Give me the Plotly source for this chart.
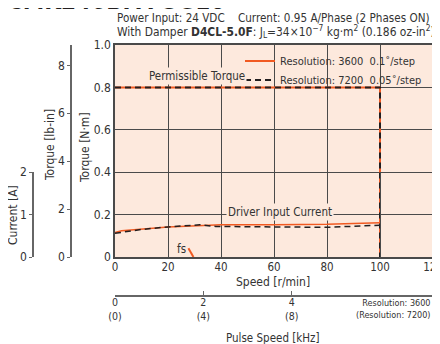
import plotly.graph_objects as go

# ---- data ----
speed_torque = [0, 100, 100]
torque_3600 = [0.8, 0.8, 0.0]
torque_7200 = [0.8, 0.8, 0.0]

speed_cur_3600 = [0, 2.5, 20, 40, 60, 80, 100]
current_3600 = [0.58, 0.62, 0.71, 0.76, 0.76, 0.77, 0.81]
speed_cur_7200 = [0, 10, 20, 32, 38, 50, 64, 80, 100]
current_7200 = [0.56, 0.65, 0.71, 0.76, 0.72, 0.71, 0.71, 0.70, 0.75]

fs_speed = [27.7, 29.6]
fs_torque = [0.041, 0.0]

speed_ticks = [0, 20, 40, 60, 80, 100, 120]
nm_ticks = [0, 0.2, 0.4, 0.6, 0.8, 1.0]
nm_labels = ["0", "0.2", "0.4", "0.6", "0.8", "1.0"]
lbin_ticks = [0, 2, 4, 6, 8]
current_ticks = [0, 1, 2]
pulse_ticks = [0, 2, 4]
pulse_labels = ["0<br>(0)", "2<br>(4)", "4<br>(8)"]

NM_TO_LBIN = 8.851
RPM_TO_KHZ = 3600 / 60 / 1000  # at resolution 3600

legend_3600 = "Resolution: 3600\u00a0\u00a00.1\u02da/step"
legend_7200 = "Resolution: 7200\u00a0\u00a00.05\u02da/step"

# ---- style ----
FAMILY = "Liberation Sans Narrow, Arial Narrow, DejaVu Sans Condensed, sans-serif"
ORANGE = "#f15a22"
BLACK = "#231f20"
BG = "#fde9dd"
GRID = "#4a4a4a"
AX = "#666666"
TXT = "#333333"


def fnt(size, color=TXT):
    return dict(family=FAMILY, size=size, color=color)


# page is drawn with an 8px body offset; screen -> paper conversions
OFF = 8
W, H = 432, 336
ML, MR, MT, MB = 0, 7, 37, 44
PW = W - ML - MR          # 425
PH = H - MT - MB          # 255


def fx(s):
    return (s - OFF - ML) / PW


def fy(s):
    return (H - MB + OFF - s) / PH


ydom0 = fy(257)

fig = go.Figure()
fig.add_shape(type="rect", xref="x domain", yref="y domain", x0=0, x1=1, y0=0, y1=1,
              fillcolor=BG, line=dict(width=0), layer="below")
fig.add_trace(go.Scatter(x=speed_torque, y=torque_3600, mode="lines",
                         line=dict(color=ORANGE, width=2), name=legend_3600))
fig.add_trace(go.Scatter(x=speed_torque, y=torque_7200, mode="lines",
                         line=dict(color=BLACK, width=2, dash="6px,4px"), name=legend_7200))
fig.add_trace(go.Scatter(x=speed_cur_3600, y=current_3600, mode="lines", yaxis="y3",
                         line=dict(color=ORANGE, width=1.5), showlegend=False))
fig.add_trace(go.Scatter(x=speed_cur_7200, y=current_7200, mode="lines", yaxis="y3",
                         line=dict(color=BLACK, width=1.5, dash="6px,4px"), showlegend=False))
fig.add_trace(go.Scatter(x=fs_speed, y=fs_torque, mode="lines",
                         line=dict(color=ORANGE, width=2), showlegend=False))
# invisible companions so the secondary scales are drawn
fig.add_trace(go.Scatter(x=speed_torque, y=[t * NM_TO_LBIN for t in torque_3600],
                         yaxis="y2", mode="lines", opacity=0, hoverinfo="skip",
                         showlegend=False))
fig.add_trace(go.Scatter(x=[s * RPM_TO_KHZ for s in speed_torque], y=torque_3600,
                         xaxis="x2", mode="lines", opacity=0, hoverinfo="skip",
                         showlegend=False))

fig.update_layout(
    width=W, height=H,
    margin=dict(l=ML, r=MR, t=MT, b=MB, autoexpand=False),
    paper_bgcolor="white", plot_bgcolor="rgba(0,0,0,0)",
    font=fnt(12),
    xaxis=dict(domain=[fx(115), 1], range=[0, 120], tickvals=speed_ticks, automargin=False,
               showgrid=True, gridcolor=GRID, gridwidth=1, zeroline=False,
               showline=True, linecolor=GRID, linewidth=1.5, mirror=True,
               ticks="", tickfont=fnt(11.5), ticklabeloverflow="allow"),
    yaxis=dict(domain=[ydom0, 1], range=[0, 1.0], tickvals=nm_ticks, ticktext=nm_labels,
               automargin=False,
               showgrid=True, gridcolor=GRID, gridwidth=1, zeroline=False,
               showline=True, linecolor=GRID, linewidth=1.5, mirror=True,
               ticks="", tickfont=fnt(12)),
    yaxis2=dict(overlaying="y", anchor="free", position=fx(71), side="left", automargin=False,
                range=[0, NM_TO_LBIN], tickvals=lbin_ticks, showgrid=False, zeroline=False,
                showline=True, linecolor=AX, linewidth=1.5,
                ticks="outside", ticklen=3, tickcolor=AX, tickfont=fnt(12)),
    yaxis3=dict(domain=[ydom0, ydom0 + 0.4 * (1 - ydom0)], anchor="free", position=fx(33),
                side="left", range=[0, 2], tickvals=current_ticks, showgrid=False, zeroline=False,
                automargin=False,
                showline=True, linecolor=AX, linewidth=1.5,
                ticks="outside", ticklen=3, tickcolor=AX, tickfont=fnt(12)),
    xaxis2=dict(overlaying="x", anchor="free", position=fy(296), side="bottom",
                range=[0, 120 * RPM_TO_KHZ], tickvals=pulse_ticks, ticktext=pulse_labels,
                automargin=False,
                showgrid=False, zeroline=False, showline=True, linecolor=AX, linewidth=1.5,
                ticks="inside", ticklen=4, tickcolor=AX, tickfont=fnt(10.5)),
    legend=dict(x=fx(427), y=fy(46.5), xanchor="right", yanchor="top",
                bgcolor="rgba(0,0,0,0)", borderwidth=0, font=fnt(11), itemwidth=30),
    showlegend=True,
)

try:
    fig.update_layout(xaxis_ticklabelstandoff=-2, xaxis2_ticklabelstandoff=-3)
except ValueError:
    pass

# in-plot labels
fig.add_annotation(x=31, y=0.855, xref="x", yref="y", text="Permissible Torque",
                   showarrow=False, bgcolor=BG, font=fnt(11.5), borderpad=1)
fig.add_annotation(x=62.4, y=0.21, xref="x", yref="y", text="Driver Input Current",
                   showarrow=False, bgcolor=BG, font=fnt(11.5), borderpad=1)
fig.add_annotation(x=25, y=0.038, xref="x", yref="y", text="fs",
                   showarrow=False, font=fnt(11.5))

# axis titles
fig.add_annotation(x=fx(273), y=fy(282), xref="paper", yref="paper", text="Speed [r/min]",
                   showarrow=False, font=fnt(12), xanchor="center", yanchor="middle")
fig.add_annotation(x=fx(273), y=fy(338), xref="paper", yref="paper", text="Pulse Speed [kHz]",
                   showarrow=False, font=fnt(11.5), xanchor="center", yanchor="middle")
fig.add_annotation(x=fx(85), y=fy(148), xref="paper", yref="paper", text="Torque [N·m]",
                   textangle=-90, showarrow=False, font=fnt(12), xanchor="center", yanchor="middle")
fig.add_annotation(x=fx(50), y=fy(145), xref="paper", yref="paper", text="Torque [lb-in]",
                   textangle=-90, showarrow=False, font=fnt(12), xanchor="center", yanchor="middle")
fig.add_annotation(x=fx(13), y=fy(215), xref="paper", yref="paper", text="Current [A]",
                   textangle=-90, showarrow=False, font=fnt(12), xanchor="center", yanchor="middle")

# notes / header
fig.add_annotation(x=fx(433), y=fy(309), xref="paper", yref="paper", xanchor="right",
                   yanchor="middle", text="Resolution: 3600<br>(Resolution: 7200)",
                   showarrow=False, font=fnt(9), align="right")
fig.add_annotation(x=fx(115), y=fy(18), xref="paper", yref="paper", xanchor="left",
                   yanchor="middle",
                   text="Power Input: 24 VDC\u00a0\u00a0\u00a0\u00a0Current: 0.95 A/Phase (2 Phases ON)",
                   showarrow=False, font=fnt(11.6))
fig.add_annotation(x=fx(115), y=fy(32), xref="paper", yref="paper", xanchor="left",
                   yanchor="middle",
                   text="With Damper <b>D4CL-5.0F</b>: J<sub>L</sub>=34×10<sup>−7</sup> kg·m<sup>2</sup> (0.186 oz-in<sup>2</sup>)",
                   showarrow=False, font=fnt(11.9))
fig.add_annotation(x=fx(5), y=fy(17), xref="paper", yref="paper", xanchor="left",
                   yanchor="bottom", text="<b>CMK246BPA-SG10</b>", showarrow=False,
                   font=fnt(24, BLACK))

fig.write_html("out.html")
